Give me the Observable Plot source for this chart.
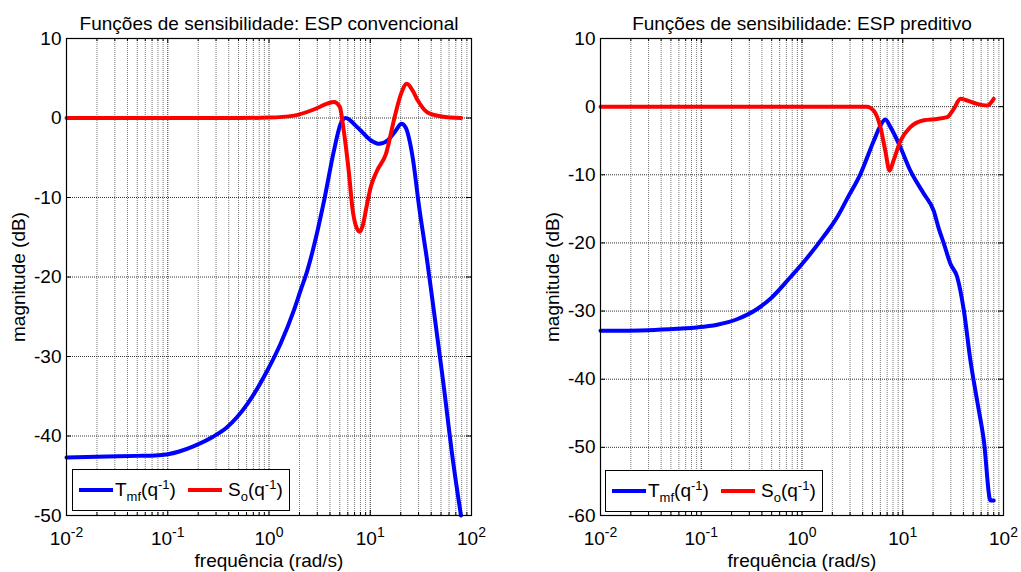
<!DOCTYPE html>
<html><head><meta charset="utf-8">
<script src="https://cdn.jsdelivr.net/npm/d3@7"></script>
<script src="https://cdn.jsdelivr.net/npm/@observablehq/plot@0.6"></script>
<style>
html,body{margin:0;padding:0;background:#fff;}
#wrap{position:relative;width:1021px;height:572px;overflow:hidden;font-family:"Liberation Sans",Arial,Helvetica,sans-serif;color:#000;}
.panel{position:absolute;top:0;}
.legend{position:absolute;border:1.3px solid #000;background:#fff;box-sizing:border-box;font-size:19px;}
.legend .sw{position:absolute;height:4px;}
.legend .tx{position:absolute;line-height:19px;white-space:nowrap;}
.legend .sub{font-size:13px;position:relative;top:5px;}
.legend .sup{font-size:13px;position:relative;top:-7px;}
</style></head>
<body>
<div id="wrap"></div>
<script>
// ---------- data ----------
const titles = ["Funções de sensibilidade: ESP convencional", "Funções de sensibilidade: ESP preditivo"];
const xLabel = "frequência (rad/s)";
const yLabel = "magnitude (dB)";
const xMajorTicks = [0.01, 0.1, 1, 10, 100];
const yTicksConv = [-50, -40, -30, -20, -10, 0, 10];
const yTicksPred = [-60, -50, -40, -30, -20, -10, 0, 10];

// ESP convencional: T_mf
const wConvT = [0.01, 0.02, 0.05, 0.075, 0.1, 0.13, 0.179, 0.28, 0.385, 0.61, 0.96, 1.3, 1.76, 2.05, 2.39, 3.0, 3.5, 4.38, 5.1, 5.7, 7.46, 10.2, 12.2, 14.8, 17.9, 20.3, 22.3, 26.2, 30.4, 36.8, 44.6, 52.3, 65.6, 78.7];
const dbConvT = [-42.7, -42.6, -42.5, -42.45, -42.3, -41.95, -41.3, -40.1, -38.9, -36.0, -31.8, -28.4, -24.2, -21.7, -19.2, -14.3, -10.4, -4.1, -0.73, 0.0, -1.16, -2.83, -3.25, -2.83, -1.57, -0.73, -1.16, -4.9, -11.2, -18.3, -26.3, -33.0, -43.1, -50.0];
// ESP convencional: S_o
const wConvS = [0.01, 0.5, 1.0, 1.76, 2.77, 3.75, 4.38, 5.0, 5.47, 6.12, 6.71, 7.19, 7.88, 8.44, 9.25, 10.1, 11.7, 14.3, 17.4, 20.1, 23.0, 26.2, 29.5, 36.8, 50.5, 79];
const dbConvS = [0, 0, 0.05, 0.3, 1.07, 1.8, 2.0, 1.4, -1.57, -6.6, -11.6, -13.5, -14.3, -13.5, -11.0, -8.7, -6.6, -4.5, 0.1, 3.0, 4.3, 3.46, 2.2, 0.7, 0.2, 0.0];
// ESP preditivo: T_mf
const wPredT = [0.01, 0.03, 0.058, 0.091, 0.144, 0.226, 0.359, 0.486, 0.77, 1.04, 1.65, 2.24, 2.81, 3.8, 5.16, 6.0, 6.7, 7.55, 9.5, 11.9, 16.2, 20.3, 22.8, 25.6, 29.8, 34.7, 40.4, 47, 54.8, 63.8, 74.3, 80];
const dbPredT = [-32.9, -32.8, -32.6, -32.4, -32.0, -31.2, -29.7, -28.2, -25.0, -22.8, -19.0, -16.2, -13.5, -9.9, -5.0, -2.8, -1.9, -3.0, -6.0, -9.4, -12.8, -15.3, -17.9, -20.1, -23.1, -25.0, -29.9, -37.3, -43.2, -49.0, -57.8, -57.8];
// ESP preditivo: S_o
const wPredS = [0.01, 1, 4.4, 5.16, 6.0, 6.7, 7.4, 8.1, 9.5, 11.9, 16.2, 21.9, 27.5, 32.1, 37.4, 43.6, 54.8, 68.9, 80];
const dbPredS = [0, 0, 0, -0.6, -3.0, -6.4, -9.4, -7.9, -5.0, -3.0, -2.0, -1.8, -1.55, -0.33, 1.15, 0.9, 0.4, 0.16, 1.15];

const colT = "#0000ff", colS = "#ff0000";

// minor log ticks
const xMinorTicks = [];
for (const d of [0.01, 0.1, 1, 10]) for (let k = 2; k <= 9; k++) xMinorTicks.push(d * k);

const toRows = (w, db) => w.map((x, i) => ({w: x, db: db[i]}));

function panel({title, yTicks, yDomain, seriesT, seriesS, left, width, mL, mR}) {
  const H = 572, mT = 38, mB = 57, fh = H - mT - mB;
  const svg = Plot.plot({
    width, height: H,
    marginLeft: mL, marginRight: mR, marginTop: mT, marginBottom: mB,
    style: {fontFamily: '"Liberation Sans", Arial, sans-serif', fontSize: "19px", color: "#000", background: "transparent", overflow: "visible"},
    x: {type: "log", domain: [0.01, 100]},
    y: {domain: yDomain},
    marks: [
      Plot.gridX(xMinorTicks, {stroke: "#7a7a7a", strokeOpacity: 1, strokeDasharray: "1,1"}),
      Plot.gridX(xMajorTicks, {stroke: "#333", strokeOpacity: 1, strokeDasharray: "1,1"}),
      Plot.gridY(yTicks, {stroke: "#333", strokeOpacity: 1, strokeDasharray: "1,1"}),
      // inward tick marks
      Plot.tickX(xMinorTicks, {x: d => d, stroke: "#000", insetBottom: fh - 3}),
      Plot.tickX(xMinorTicks, {x: d => d, stroke: "#000", insetTop: fh - 3}),
      Plot.tickX(xMajorTicks, {x: d => d, stroke: "#000", insetBottom: fh - 5}),
      Plot.tickX(xMajorTicks, {x: d => d, stroke: "#000", insetTop: fh - 5}),
      Plot.tickY(yTicks, {y: d => d, stroke: "#000", insetRight: width - mL - mR - 5}),
      Plot.tickY(yTicks, {y: d => d, stroke: "#000", insetLeft: width - mL - mR - 5}),
      Plot.axisX(xMajorTicks, {tickSize: 0, tickPadding: 16, tickFormat: d => "10^" + Math.round(Math.log10(d)),
        label: xLabel, labelAnchor: "center", labelOffset: 51, labelArrow: "none"}),
      Plot.axisY(yTicks, {tickSize: 0, tickPadding: 5, tickFormat: d => String(d),
        label: yLabel, labelAnchor: "center", labelOffset: 55, labelArrow: "none"}),
      Plot.line(seriesT, {x: "w", y: "db", stroke: colT, strokeWidth: 4, curve: "monotone-x"}),
      Plot.line(seriesS, {x: "w", y: "db", stroke: colS, strokeWidth: 4, curve: "monotone-x"}),
      Plot.frame({stroke: "#000", strokeWidth: 1.2}),
      Plot.text([title], {text: d => d, frameAnchor: "top", dy: -22, fontSize: 19})
    ]
  });
  // superscript exponents on the x tick labels
  d3.select(svg).selectAll("text").each(function () {
    const t = this.textContent;
    if (t.startsWith("10^")) {
      const e = t.slice(3);
      this.textContent = "10";
      d3.select(this).append("tspan").attr("dy", "-0.55em").attr("font-size", "14px").text(e);
    }
  });
  const div = document.createElement("div");
  div.className = "panel";
  div.style.left = left + "px";
  div.appendChild(svg);
  document.getElementById("wrap").appendChild(div);
}

function legend(left, top) {
  const L = document.createElement("div");
  L.className = "legend";
  L.style.left = left + "px"; L.style.top = top + "px";
  L.style.width = "218px"; L.style.height = "42px";
  L.innerHTML =
    `<div class="sw" style="left:6px;top:18px;width:34px;background:${colT}"></div>` +
    `<div class="tx" style="left:42px;top:10px">T<span class="sub">mf</span>(q<span class="sup">-1</span>)</div>` +
    `<div class="sw" style="left:115px;top:18px;width:34px;background:${colS}"></div>` +
    `<div class="tx" style="left:155px;top:10px">S<span class="sub">o</span>(q<span class="sup">-1</span>)</div>`;
  document.getElementById("wrap").appendChild(L);
}

panel({title: titles[0], yTicks: yTicksConv, yDomain: [-50, 10],
  seriesT: toRows(wConvT, dbConvT), seriesS: toRows(wConvS, dbConvS),
  left: 0, width: 510, mL: 66, mR: 39});
panel({title: titles[1], yTicks: yTicksPred, yDomain: [-60, 10],
  seriesT: toRows(wPredT, dbPredT), seriesS: toRows(wPredS, dbPredS),
  left: 530, width: 491, mL: 70, mR: 18});
legend(72, 469);
legend(605, 470);
</script>
</body></html>
